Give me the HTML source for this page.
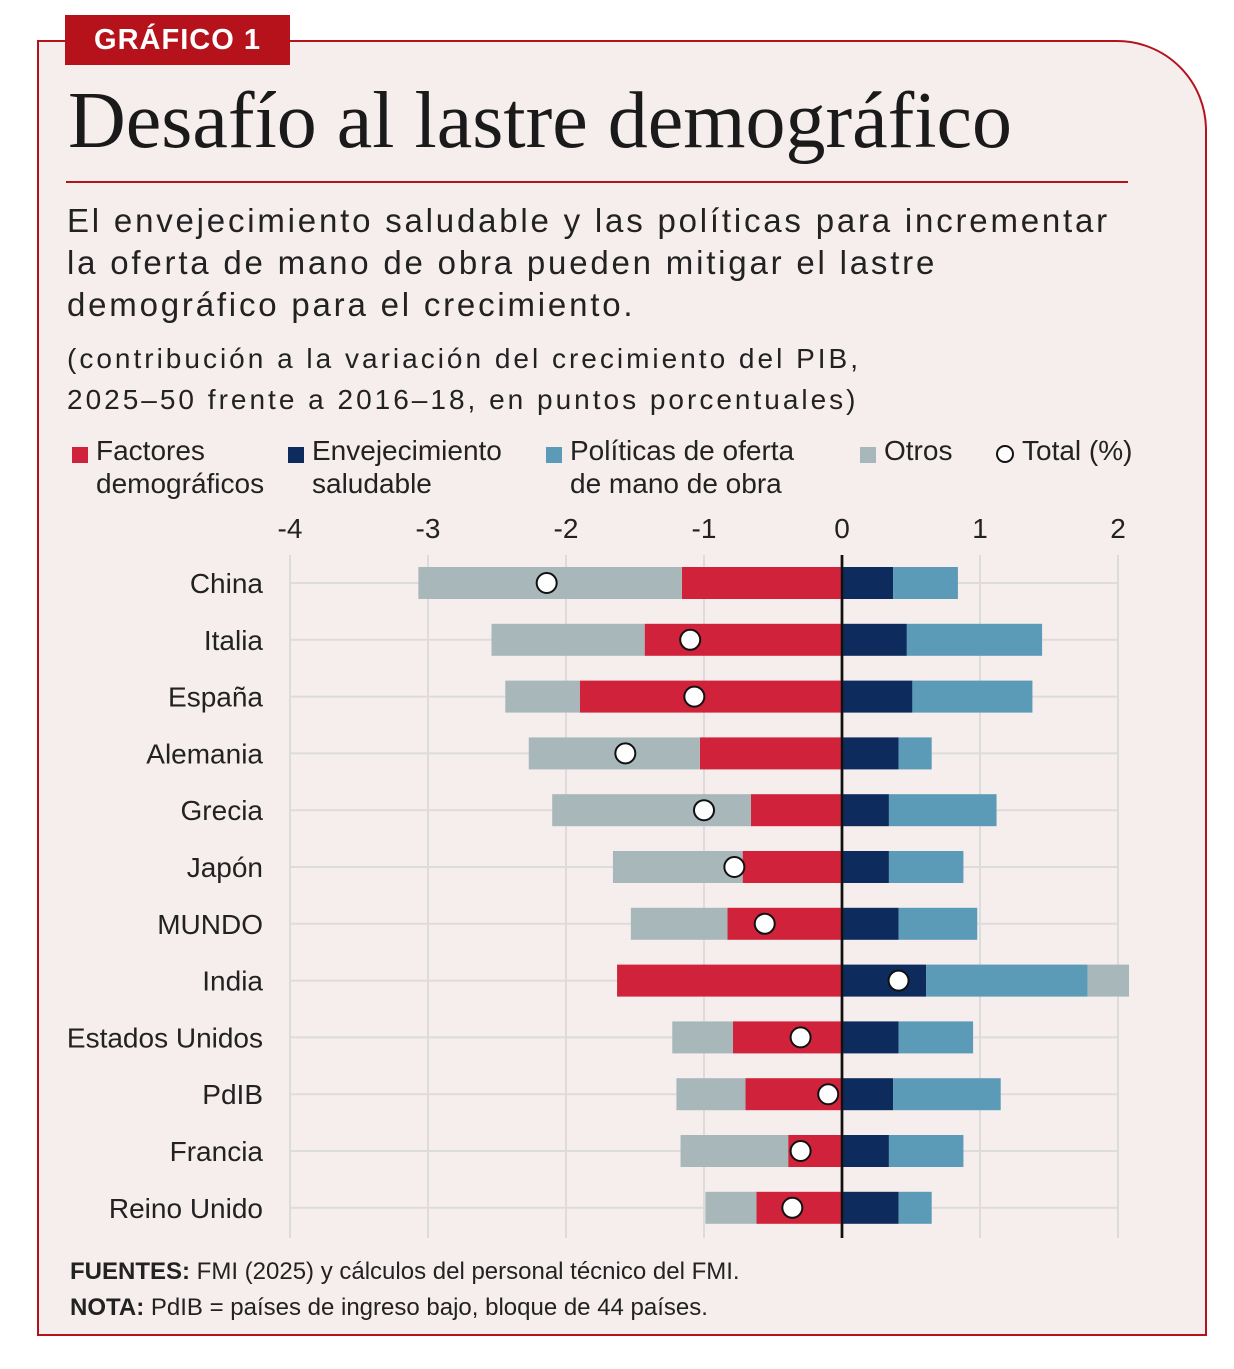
<!DOCTYPE html>
<html><head><meta charset="utf-8"><style>
body{margin:0;background:#fff;}
#wrap{position:relative;width:1234px;height:1369px;font-family:"Liberation Sans",sans-serif;}
#frame{position:absolute;left:37px;top:40px;width:1166px;height:1292px;border:2px solid #b5121b;border-top-right-radius:90px;background:#f6eeed;}
#tag{position:absolute;left:65px;top:15px;width:225px;height:50px;background:#b5121b;color:#fff;font-size:29px;font-weight:bold;letter-spacing:1px;line-height:50px;text-align:center;}
#title{position:absolute;left:68px;top:76px;font-family:"Liberation Serif",serif;font-size:80px;color:#1a1a1a;}
#rule{position:absolute;left:66px;top:181px;width:1062px;height:2px;background:#b5121b;}
#sub{position:absolute;left:67px;top:200px;font-size:33px;line-height:42px;color:#222;letter-spacing:2.8px;}
#unit{position:absolute;left:67px;top:338px;font-size:28px;line-height:41px;color:#222;letter-spacing:3px;}
.leg{position:absolute;top:434px;font-size:28px;line-height:33px;color:#222;}
.sw{position:absolute;left:-24px;top:13px;width:16px;height:16px;}
#notes{position:absolute;left:70px;top:1254px;font-size:24px;line-height:36px;color:#222;}
svg{position:absolute;left:0;top:0;}
</style></head><body>
<div id="wrap">
<div id="frame"></div>
<div id="tag">GRÁFICO 1</div>
<div id="title">Desafío al lastre demográfico</div>
<div id="rule"></div>
<div id="sub">El envejecimiento saludable y las políticas para incrementar<br>la oferta de mano de obra pueden mitigar el lastre<br>demográfico para el crecimiento.</div>
<div id="unit">(contribución a la variación del crecimiento del PIB,<br>2025–50 frente a 2016–18, en puntos porcentuales)</div>
<div class="leg" style="left:96px"><span class="sw" style="background:#d0223b"></span>Factores<br>demográficos</div>
<div class="leg" style="left:312px"><span class="sw" style="background:#0d2b5c"></span>Envejecimiento<br>saludable</div>
<div class="leg" style="left:570px"><span class="sw" style="background:#5b9bb8"></span>Políticas de oferta<br>de mano de obra</div>
<div class="leg" style="left:884px"><span class="sw" style="background:#a8b8ba"></span>Otros</div>
<div class="leg" style="left:1022px"><span class="sw" style="background:#fff;border:2px solid #111;border-radius:50%;width:14px;height:14px;left:-26px;top:11px"></span>Total (%)</div>
<svg id="chart" width="1234" height="1369"></svg>
<div id="notes"><b>FUENTES:</b> FMI (2025) y cálculos del personal técnico del FMI.<br><b>NOTA:</b> PdIB = países de ingreso bajo, bloque de 44 países.</div>
</div>
<script>
const categories=["China","Italia","España","Alemania","Grecia","Japón","MUNDO","India","Estados Unidos","PdIB","Francia","Reino Unido"];
const factores=[-1.16,-1.43,-1.90,-1.03,-0.66,-0.72,-0.83,-1.63,-0.79,-0.70,-0.39,-0.62];
const envejecimiento=[0.37,0.47,0.51,0.41,0.34,0.34,0.41,0.61,0.41,0.37,0.34,0.41];
const politicas=[0.47,0.98,0.87,0.24,0.78,0.54,0.57,1.17,0.54,0.78,0.54,0.24];
const otros=[-1.91,-1.11,-0.54,-1.24,-1.44,-0.94,-0.70,0.30,-0.44,-0.50,-0.78,-0.37];
const totals=[-2.14,-1.10,-1.07,-1.57,-1.00,-0.78,-0.56,0.41,-0.30,-0.10,-0.30,-0.36];
const ticks=[-4,-3,-2,-1,0,1,2];
const NS="http://www.w3.org/2000/svg";
const svg=document.getElementById('chart');
const x=v=>842+v*138;
const y=i=>583+i*56.8;
function mk(t,a){const e=document.createElementNS(NS,t);for(const k in a)e.setAttribute(k,a[k]);svg.appendChild(e);return e;}
ticks.forEach(t=>{
 const g=mk('line',{x1:x(t),x2:x(t),y1:555,y2:1238,stroke:t===0?'#111':'#dcdcdc','stroke-width':t===0?2.5:2});
 
 
 const l=mk('text',{x:x(t),y:538,'text-anchor':'middle','font-size':28,fill:'#222','font-family':'Liberation Sans, sans-serif'});
 l.textContent=t;
 
 
});
categories.forEach((c,i)=>{
 const h=mk('line',{x1:290,x2:1118,y1:y(i),y2:y(i),stroke:'#dcdcdc','stroke-width':2});
 
 
});
const series=[[factores,'#d0223b','factores'],[envejecimiento,'#0d2b5c','envejecimiento'],[politicas,'#5b9bb8','politicas'],[otros,'#a8b8ba','otros']];
categories.forEach((c,i)=>{
 const lab=mk('text',{x:263,y:y(i)+10,'text-anchor':'end','font-size':28,fill:'#222','font-family':'Liberation Sans, sans-serif'});
 lab.textContent=c;
 
 
 let pos=0,neg=0;
 series.forEach(([arr,col,nm])=>{
  const v=arr[i];let a,b;
  if(v>=0){a=pos;b=pos+v;pos=b;}else{a=neg+v;b=neg;neg=a;}
  const r=mk('rect',{x:x(a),y:y(i)-16,width:x(b)-x(a),height:32,fill:col});
  
  
 });
});
const z=mk('line',{x1:x(0),x2:x(0),y1:555,y2:1238,stroke:'#111','stroke-width':2.5});


categories.forEach((c,i)=>{
 const d=mk('circle',{cx:x(totals[i]),cy:y(i),r:10,fill:'#fff',stroke:'#111','stroke-width':2});
 
 
});
</script>
</body></html>
